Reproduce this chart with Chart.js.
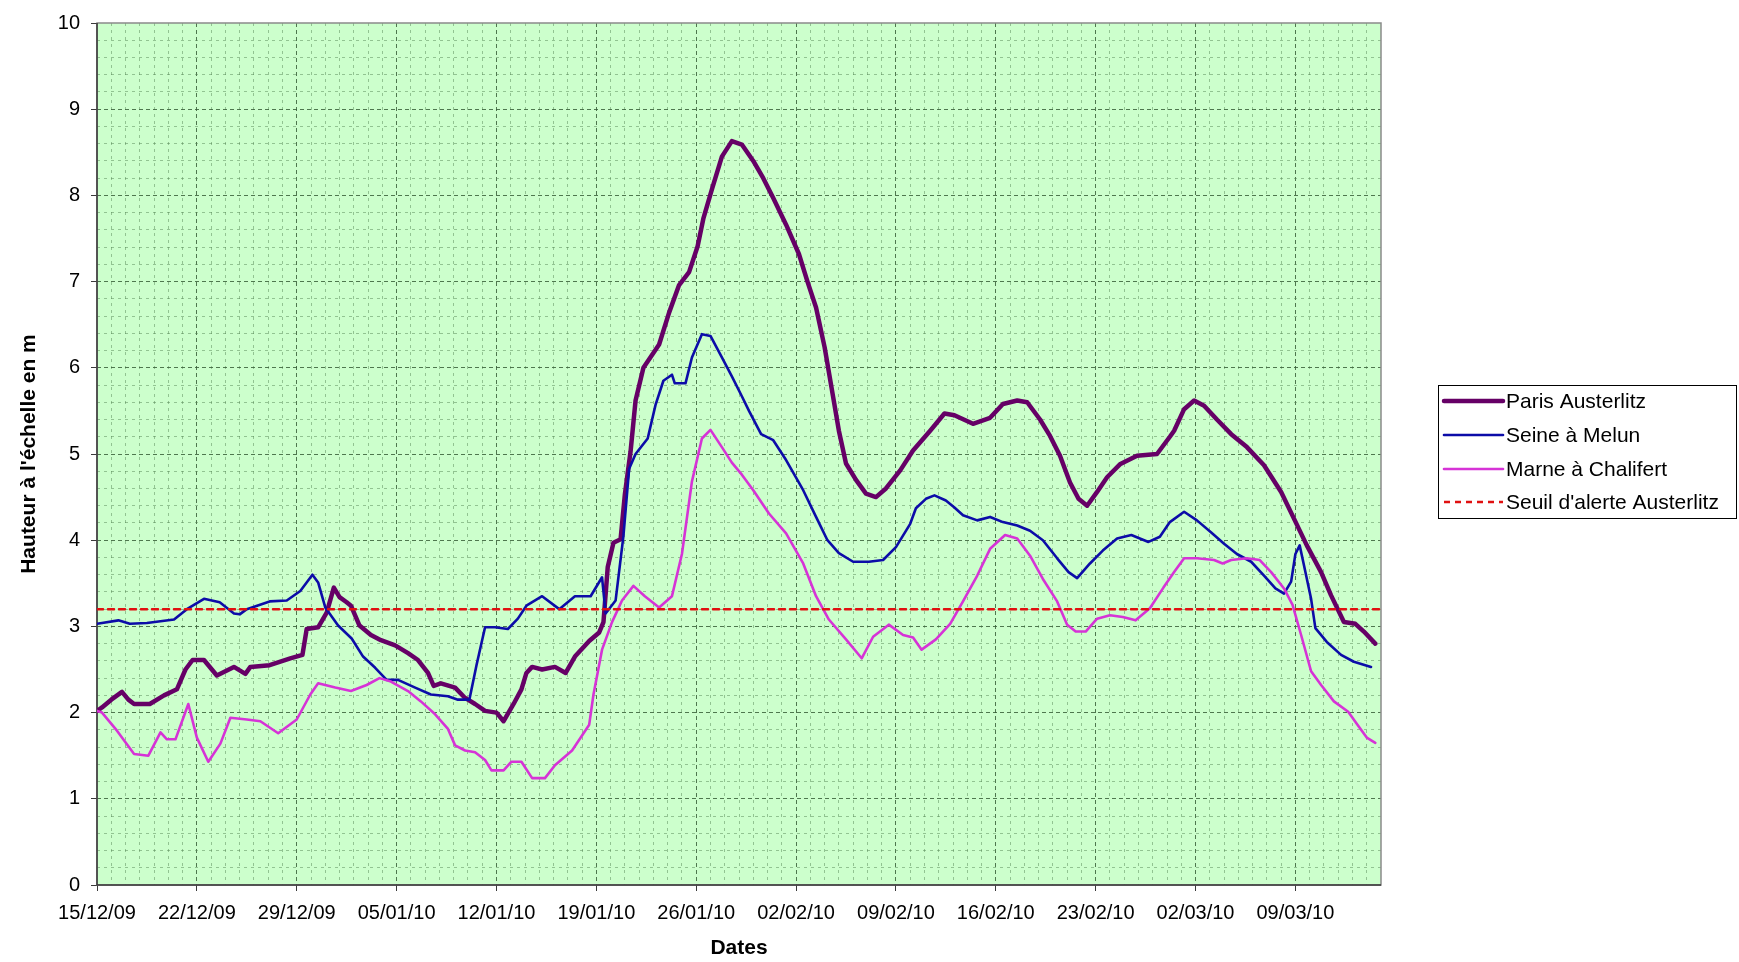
<!DOCTYPE html>
<html>
<head>
<meta charset="utf-8">
<script src="https://cdn.jsdelivr.net/npm/chart.js@4.4.1/dist/chart.umd.min.js"></script>
<style>
  html, body { margin: 0; padding: 0; background: #ffffff; }
  #wrap { width: 1739px; height: 962px; position: relative; }
</style>
</head>
<body>
<div id="wrap"><canvas id="c"></canvas></div>
<script>
// ---- tick labels (one every 7 days, day 0 = 15/12/09) ----
const tickLabels = ["15/12/09","22/12/09","29/12/09","05/01/10","12/01/10","19/01/10","26/01/10","02/02/10","09/02/10","16/02/10","23/02/10","02/03/10","09/03/10"];

// ---- series: days since 15/12/09 and water level (m) ----
const parisDays = [0,0.35,1,1.75,2.2,2.6,3.7,4.7,5.6,6.2,6.7,7.5,8.4,9.6,10.4,10.75,12.1,13.55,14.4,14.7,15.5,16.1,16.6,17,17.5,17.8,18.4,19.2,19.9,20.9,21.8,22.5,23.2,23.6,24.1,25.1,25.8,26.5,27.2,28,28.5,29.2,29.75,30.1,30.5,31.2,32.1,32.85,33.5,34.5,35.2,35.5,35.8,36.2,36.7,37,37.4,37.75,38.3,39.4,40.1,40.8,41.5,42.1,42.5,43.1,43.8,44.5,45.2,46,46.7,47.4,48.3,49.2,49.8,50.4,51,51.6,52,52.5,53.2,53.9,54.6,55.3,56.3,57.2,58.4,59.4,60.1,61.4,62.6,63.5,64.5,65.2,66.1,66.8,67.5,68.2,68.8,69.4,70.1,70.8,71.7,72.9,74.3,75.2,75.5,76.2,76.9,77.6,78.5,79.5,80.6,81.8,83,83.9,84.8,85.8,86.5,87.4,88.2,88.8,89.6];
const parisLevels = [2.02,2.06,2.15,2.24,2.15,2.1,2.1,2.2,2.27,2.5,2.61,2.61,2.43,2.53,2.45,2.53,2.55,2.63,2.67,2.97,2.99,3.16,3.45,3.34,3.28,3.24,3.01,2.9,2.84,2.78,2.69,2.61,2.46,2.31,2.34,2.29,2.17,2.1,2.02,2.0,1.9,2.1,2.27,2.46,2.53,2.5,2.53,2.46,2.65,2.83,2.93,3.05,3.69,3.97,4.01,4.53,5.03,5.62,6.0,6.27,6.64,6.96,7.11,7.41,7.73,8.07,8.45,8.63,8.59,8.4,8.2,7.97,7.66,7.32,7.0,6.7,6.24,5.66,5.27,4.89,4.7,4.54,4.5,4.6,4.81,5.04,5.27,5.47,5.45,5.35,5.42,5.58,5.62,5.6,5.4,5.21,4.98,4.67,4.48,4.4,4.56,4.73,4.88,4.98,5.0,5.2,5.27,5.52,5.62,5.56,5.4,5.23,5.08,4.87,4.56,4.25,3.94,3.63,3.36,3.05,3.03,2.94,2.8];

const seineDays = [0,0.35,1.5,2.3,3.5,5.4,6.3,7.5,8.6,9.6,10,10.5,12.1,13.3,14.25,15.1,15.5,16,16.9,17.85,18.65,19.5,20.3,21.1,22.3,23.4,24.6,25.3,26.1,26.6,27.2,27.9,28.8,29.5,30.1,31.2,32.4,33.5,34.6,35.4,35.65,36.35,36.9,37.3,37.75,38.6,39.15,39.7,40.3,40.5,41.25,41.7,42.4,43,43.8,44.5,45.2,45.7,46.55,47.4,48.3,49.5,50.4,51.2,52,53,54.1,55.1,56,57,57.4,58.1,58.7,59.5,60.1,60.7,61.7,62.6,63.5,64.5,65.4,66.3,67.3,68.1,68.7,69.6,70.5,71.5,72.5,73.7,74.5,75.2,76.2,77.1,78.1,79,79.9,80.9,81.8,82.6,83.2,83.7,84,84.3,84.6,85.1,85.4,86.2,87.2,88.1,89.3];
const seineLevels = [3.03,3.04,3.07,3.03,3.04,3.08,3.2,3.32,3.28,3.15,3.14,3.2,3.29,3.3,3.41,3.6,3.51,3.22,3.01,2.86,2.65,2.52,2.38,2.38,2.29,2.21,2.19,2.15,2.15,2.55,2.99,2.99,2.97,3.09,3.24,3.35,3.2,3.35,3.35,3.57,3.15,3.3,4.05,4.83,5.0,5.18,5.57,5.85,5.92,5.82,5.82,6.12,6.39,6.37,6.12,5.9,5.67,5.5,5.23,5.16,4.93,4.58,4.27,4.0,3.85,3.75,3.75,3.77,3.92,4.19,4.37,4.48,4.52,4.46,4.38,4.29,4.23,4.27,4.21,4.17,4.11,4.0,3.79,3.63,3.56,3.73,3.88,4.02,4.06,3.98,4.04,4.21,4.33,4.23,4.09,3.96,3.84,3.75,3.59,3.44,3.38,3.52,3.84,3.94,3.71,3.32,2.98,2.82,2.67,2.59,2.53];

const marneDays = [0,0.35,1.4,2.6,3.6,4.45,4.9,5.5,6.4,7,7.8,8.65,9.35,10.5,11.45,12.7,14,14.95,15.5,16.7,17.8,18.9,19.8,20.6,21.8,22.7,23.7,24.6,25.1,25.8,26.5,27.2,27.65,28.5,29.05,29.75,30.5,31.4,32.1,33.3,34.5,34.8,35.4,36.1,36.8,37.6,38.4,39.4,40.3,41,41.7,42.4,43,43.8,44.5,45.2,46,47.1,48.3,49.5,50.4,51.3,52.5,53.6,54.4,55.5,56.5,57.2,57.8,58.8,59.8,60.7,61.7,62.6,63.65,64.5,65.4,66.3,67.3,68,68.6,69.3,70.1,71,71.9,72.8,73.8,74.75,75.5,76.2,77.1,78.3,78.9,79.5,80.6,81.5,82.3,83.2,83.8,84.4,85.1,85.8,86.7,87.7,88.35,89,89.6];
const marneLevels = [2.02,2.0,1.79,1.52,1.5,1.77,1.69,1.69,2.1,1.71,1.43,1.64,1.94,1.92,1.9,1.76,1.92,2.21,2.34,2.29,2.25,2.32,2.4,2.36,2.25,2.13,1.98,1.81,1.62,1.56,1.54,1.45,1.33,1.33,1.43,1.43,1.24,1.24,1.39,1.56,1.86,2.21,2.73,3.05,3.3,3.47,3.35,3.22,3.35,3.84,4.68,5.18,5.28,5.08,4.9,4.76,4.58,4.31,4.08,3.73,3.35,3.08,2.85,2.63,2.88,3.02,2.9,2.87,2.73,2.85,3.03,3.29,3.59,3.9,4.06,4.02,3.82,3.55,3.29,3.02,2.94,2.94,3.09,3.13,3.11,3.07,3.21,3.45,3.63,3.79,3.79,3.77,3.73,3.77,3.79,3.77,3.63,3.44,3.25,2.9,2.48,2.32,2.13,2.01,1.86,1.71,1.65];

const seuilDays = [0, 90];
const seuilLevels = [3.2, 3.2];

const seriesNames = ["Paris Austerlitz", "Seine à Melun", "Marne à Chalifert", "Seuil d'alerte Austerlitz"];

const FONT = "'Liberation Sans', Arial, Helvetica, sans-serif";

function pts(days, levels) { return days.map((d, i) => ({ x: d, y: levels[i] })); }
function isMajorY(v) { return Math.abs(v - Math.round(v)) < 1e-6; }
function isMajorX(v) { return Math.abs(v / 7 - Math.round(v / 7)) < 1e-6; }

const MAJOR_GRID = 'rgba(55,95,55,0.85)';
const MINOR_GRID = 'rgba(85,135,85,0.5)';

const plotDecor = {
  id: 'plotDecor',
  beforeDraw(chart) {
    const { ctx, chartArea: a } = chart;
    ctx.save();
    ctx.fillStyle = '#ffffff';
    ctx.fillRect(0, 0, chart.width, chart.height);
    ctx.fillStyle = '#ccffcc';
    ctx.fillRect(a.left, a.top, a.right - a.left, a.bottom - a.top);
    ctx.restore();
  },
  beforeDatasetsDraw(chart) {
    const { ctx, chartArea: a } = chart;
    ctx.save();
    ctx.strokeStyle = '#8a8a8a';
    ctx.lineWidth = 1.5;
    ctx.strokeRect(a.left, a.top, a.right - a.left, a.bottom - a.top);
    ctx.strokeStyle = '#3a3a3a';
    ctx.lineWidth = 1.5;
    ctx.beginPath();
    ctx.moveTo(a.left, a.top);
    ctx.lineTo(a.left, a.bottom);
    ctx.lineTo(a.right, a.bottom);
    ctx.stroke();
    ctx.restore();
  },
  afterDraw(chart) {
    const { ctx } = chart;
    const bx = 1438, by = 385, bw = 298, bh = 133;
    ctx.save();
    ctx.fillStyle = '#ffffff';
    ctx.fillRect(bx, by, bw, bh);
    ctx.strokeStyle = '#000000';
    ctx.lineWidth = 1;
    ctx.strokeRect(bx + 0.5, by + 0.5, bw, bh);
    const rows = [401, 435, 469, 502];
    chart.data.datasets.forEach((ds, i) => {
      const y = rows[i];
      ctx.strokeStyle = ds.borderColor;
      ctx.lineWidth = ds.borderWidth;
      ctx.setLineDash(ds.borderDash || []);
      ctx.lineCap = ds.borderDash ? 'butt' : 'round';
      ctx.beginPath();
      ctx.moveTo(1444, y);
      ctx.lineTo(1503, y);
      ctx.stroke();
      ctx.setLineDash([]);
      ctx.fillStyle = '#000000';
      ctx.font = '21px ' + FONT;
      ctx.textBaseline = 'middle';
      ctx.textAlign = 'left';
      ctx.fillText(ds.label, 1506, y + 1);
    });
    ctx.restore();
  }
};

new Chart(document.getElementById('c'), {
  type: 'line',
  data: {
    datasets: [
      { label: seriesNames[0], data: pts(parisDays, parisLevels), borderColor: '#660066', borderWidth: 4.5, order: 4 },
      { label: seriesNames[1], data: pts(seineDays, seineLevels), borderColor: '#0c0ca8', borderWidth: 2.6, order: 3 },
      { label: seriesNames[2], data: pts(marneDays, marneLevels), borderColor: '#d633d6', borderWidth: 2.6, order: 2 },
      { label: seriesNames[3], data: pts(seuilDays, seuilLevels), borderColor: '#e01010', borderWidth: 2.5, borderDash: [6, 5], order: 1 }
    ]
  },
  options: {
    responsive: true,
    maintainAspectRatio: false,
    animation: false,
    devicePixelRatio: 1,
    layout: { padding: { top: 20, right: 358, left: 0, bottom: 0 } },
    elements: {
      point: { radius: 0, hoverRadius: 0 },
      line: { tension: 0, fill: false, borderJoinStyle: 'round', borderCapStyle: 'round' }
    },
    plugins: {
      legend: { display: false },
      tooltip: { enabled: false },
      title: { display: false }
    },
    scales: {
      x: {
        type: 'linear',
        min: 0,
        max: 90,
        afterFit(scale) { scale.height = 77; },
        ticks: {
          stepSize: 1,
          autoSkip: false,
          maxRotation: 0,
          minRotation: 0,
          padding: 10,
          color: '#000000',
          font: { family: FONT, size: 20 },
          callback: (v) => isMajorX(v) ? tickLabels[Math.round(v / 7)] : ''
        },
        grid: {
          drawTicks: true,
          tickLength: 6,
          lineWidth: 1,
          color: (c) => {
            if (!c.tick) return 'transparent';
            const v = c.tick.value;
            if (v <= 0 || v >= 90) return 'transparent';
            return isMajorX(v) ? MAJOR_GRID : MINOR_GRID;
          },
          tickColor: (c) => (c.tick && isMajorX(c.tick.value)) ? '#3a3a3a' : 'transparent'
        },
        border: {
          display: false,
          dash: (c) => (c.tick && isMajorX(c.tick.value)) ? [4, 3] : [3, 4]
        },
        title: {
          display: true,
          text: 'Dates',
          color: '#000000',
          font: { family: FONT, size: 21, weight: 'bold' },
          padding: { top: 0, bottom: 1 }
        }
      },
      y: {
        type: 'linear',
        min: 0,
        max: 10,
        afterFit(scale) { scale.width = 97; },
        ticks: {
          stepSize: 0.2,
          autoSkip: false,
          padding: 11,
          color: '#000000',
          font: { family: FONT, size: 20 },
          callback: (v) => isMajorY(v) ? String(Math.round(v)) : ''
        },
        grid: {
          drawTicks: true,
          tickLength: 6,
          lineWidth: 1,
          color: (c) => {
            if (!c.tick) return 'transparent';
            const v = c.tick.value;
            if (v <= 1e-6 || v >= 10 - 1e-6) return 'transparent';
            return isMajorY(v) ? MAJOR_GRID : MINOR_GRID;
          },
          tickColor: (c) => (c.tick && isMajorY(c.tick.value)) ? '#3a3a3a' : 'transparent'
        },
        border: {
          display: false,
          dash: (c) => (c.tick && isMajorY(c.tick.value)) ? [4, 3] : [3, 4]
        },
        title: {
          display: true,
          text: "Hauteur à l'échelle en m",
          color: '#000000',
          font: { family: FONT, size: 21, weight: 'bold' },
          padding: { top: 17, bottom: 0 }
        }
      }
    }
  },
  plugins: [plotDecor]
});
</script>
</body>
</html>
